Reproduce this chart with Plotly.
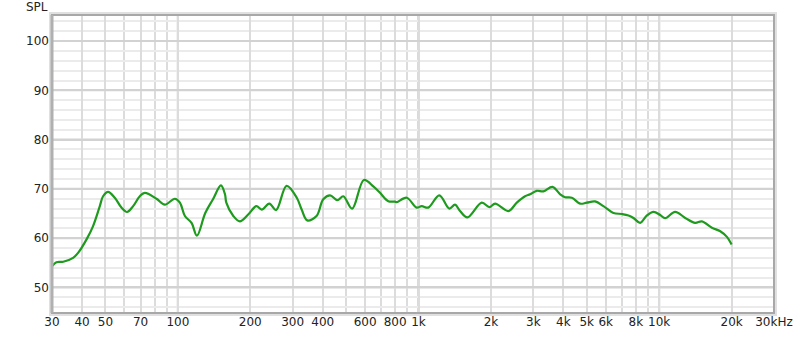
import math
import plotly.graph_objects as go

# Frequency response data (Hz, dB SPL)
freq_hz = [30, 31.3, 33.4, 36.7, 38.5, 41.7, 44.4, 47.4, 48.9, 51.3, 54.7, 58.3, 61.5, 65.2, 69.5, 72.9,
           81.5, 88.3, 97.2, 102, 107, 114, 120, 130, 140, 151, 157, 159, 170, 181, 196, 212, 223, 240,
           256, 283, 312, 327, 345, 377, 402, 429, 460, 487, 530, 593, 649, 692, 749, 799, 812, 893,
           983, 1031, 1098, 1220, 1343, 1418, 1488, 1596, 1831, 1970, 2081, 2363, 2561, 2773, 2909,
           3101, 3304, 3601, 3877, 4066, 4335, 4693, 5004, 5418, 5867, 6457, 6998, 7455, 7821, 8337,
           8891, 9469, 10100, 10590, 11650, 12830, 14110, 15050, 16560, 17940, 19120, 20000]
spl_db = [54.3, 55.1, 55.2, 56.0, 57.0, 59.7, 62.4, 66.5, 68.5, 69.4, 68.2, 66.2, 65.3, 66.5, 68.5, 69.2,
          68.0, 66.8, 68.0, 67.2, 64.5, 63.1, 60.5, 65.1, 67.9, 70.7, 68.9, 67.2, 64.5, 63.4,
          64.8, 66.5, 65.8, 67.0, 65.7, 70.6, 68.2, 65.8, 63.6, 64.5, 67.9, 68.7, 67.7, 68.5,
          66.0, 71.8, 70.5, 69.2, 67.5, 67.4, 67.3, 68.2, 66.2, 66.5, 66.2, 68.7, 66.0, 66.8,
          65.5, 64.2, 67.2, 66.3, 67.0, 65.5, 67.2, 68.5, 68.9, 69.6, 69.5, 70.4, 68.9, 68.3,
          68.2, 67.0, 67.2, 67.45, 66.5, 65.1, 64.9, 64.6, 64.1, 63.1, 64.6, 65.35, 64.7, 64.05,
          65.35, 64.1, 63.1, 63.4, 62.1, 61.4, 60.25, 58.7]

# Axis ticks
x_tick_vals = [30, 40, 50, 70, 100, 200, 300, 400, 600, 800, 1000, 2000, 3000, 4000, 5000, 6000,
               8000, 10000, 20000, 30000]
x_tick_text = ["30", "40", "50", "70", "100", "200", "300", "400", "600", "800", "1k", "2k", "3k",
               "4k", "5k", "6k", "8k", "10k", "20k", "30kHz"]
x_grid_vals = [30, 40, 50, 60, 70, 80, 90, 200, 300, 400, 500, 600, 700, 800, 900,
               2000, 3000, 4000, 5000, 6000, 7000, 8000, 9000, 20000]
x_decades = [100, 1000, 10000]
y_tick_vals = [50, 60, 70, 80, 90, 100]
y_minor_vals = [46, 48, 52, 54, 56, 58, 62, 64, 66, 68, 72, 74, 76, 78, 82, 84, 86, 88, 92, 94,
                96, 98, 102, 104]

X_RANGE = [30, 30000]
Y_RANGE = [44.8, 105.3]

fig = go.Figure()
fig.add_trace(go.Scatter(
    x=freq_hz, y=spl_db, mode="lines",
    line=dict(color="#1e9a1e", width=2.2, shape="spline", smoothing=1.0),
    hoverinfo="x+y", showlegend=False,
))

shapes = []
for v in x_decades:
    shapes.append(dict(type="line", xref="x", yref="paper", x0=v, x1=v, y0=0, y1=1,
                       line=dict(color="#b4b4b4", width=2), layer="between"))
for v in y_tick_vals:
    shapes.append(dict(type="line", xref="paper", yref="y", x0=0, x1=1, y0=v, y1=v,
                       line=dict(color="#d2d2d2", width=2), layer="between"))

px = 1 / 722.0
py = 1 / 298.0
# soft shadow frame
shapes.append(dict(type="rect", xref="paper", yref="paper",
                   x0=-2 * px, x1=1 + 2 * px, y0=-2 * py, y1=1 + 2 * py,
                   line=dict(color="#e0e0e0", width=2), fillcolor="rgba(0,0,0,0)", layer="above"))
# frame
shapes.append(dict(type="rect", xref="paper", yref="paper",
                   x0=0, x1=1, y0=0, y1=1,
                   line=dict(color="#a8a8a8", width=2), fillcolor="rgba(0,0,0,0)", layer="above"))
shapes.append(dict(type="line", xref="paper", yref="paper",
                   x0=0, x1=0, y0=0, y1=1,
                   line=dict(color="#b0b0b0", width=3), layer="above"))

fig.update_layout(
    width=800, height=337,
    margin=dict(l=52, r=26, t=15, b=24),
    paper_bgcolor="white", plot_bgcolor="white",
    font=dict(family="DejaVu Sans", size=12, color="#222222"),
    shapes=shapes,
    xaxis=dict(
        type="log", range=[math.log10(X_RANGE[0]), math.log10(X_RANGE[1])], automargin=False,
        tickvals=x_tick_vals, ticktext=x_tick_text, ticks="", showline=False, zeroline=False,
        showgrid=True, gridcolor="#dcdcdc", gridwidth=2,
        minor=dict(tickvals=x_grid_vals, showgrid=True, gridcolor="#dcdcdc", gridwidth=2, ticks=""),
        tickfont=dict(size=12, color="#222222"),
    ),
    yaxis=dict(
        range=Y_RANGE, tickvals=y_tick_vals, ticks="", showline=False, zeroline=False,
        automargin=False, ticklabelstandoff=2,
        showgrid=True, gridcolor="#d2d2d2", gridwidth=2,
        minor=dict(tickvals=y_minor_vals, showgrid=True, gridcolor="#ebebeb", gridwidth=2, ticks=""),
        tickfont=dict(size=12, color="#222222"),
    ),
    annotations=[dict(text="SPL", xref="paper", yref="paper", x=-0.021, y=1.026,
                      xanchor="center", yanchor="middle", showarrow=False,
                      font=dict(size=12, color="#222222"))],
)

fig.write_html("out.html")
